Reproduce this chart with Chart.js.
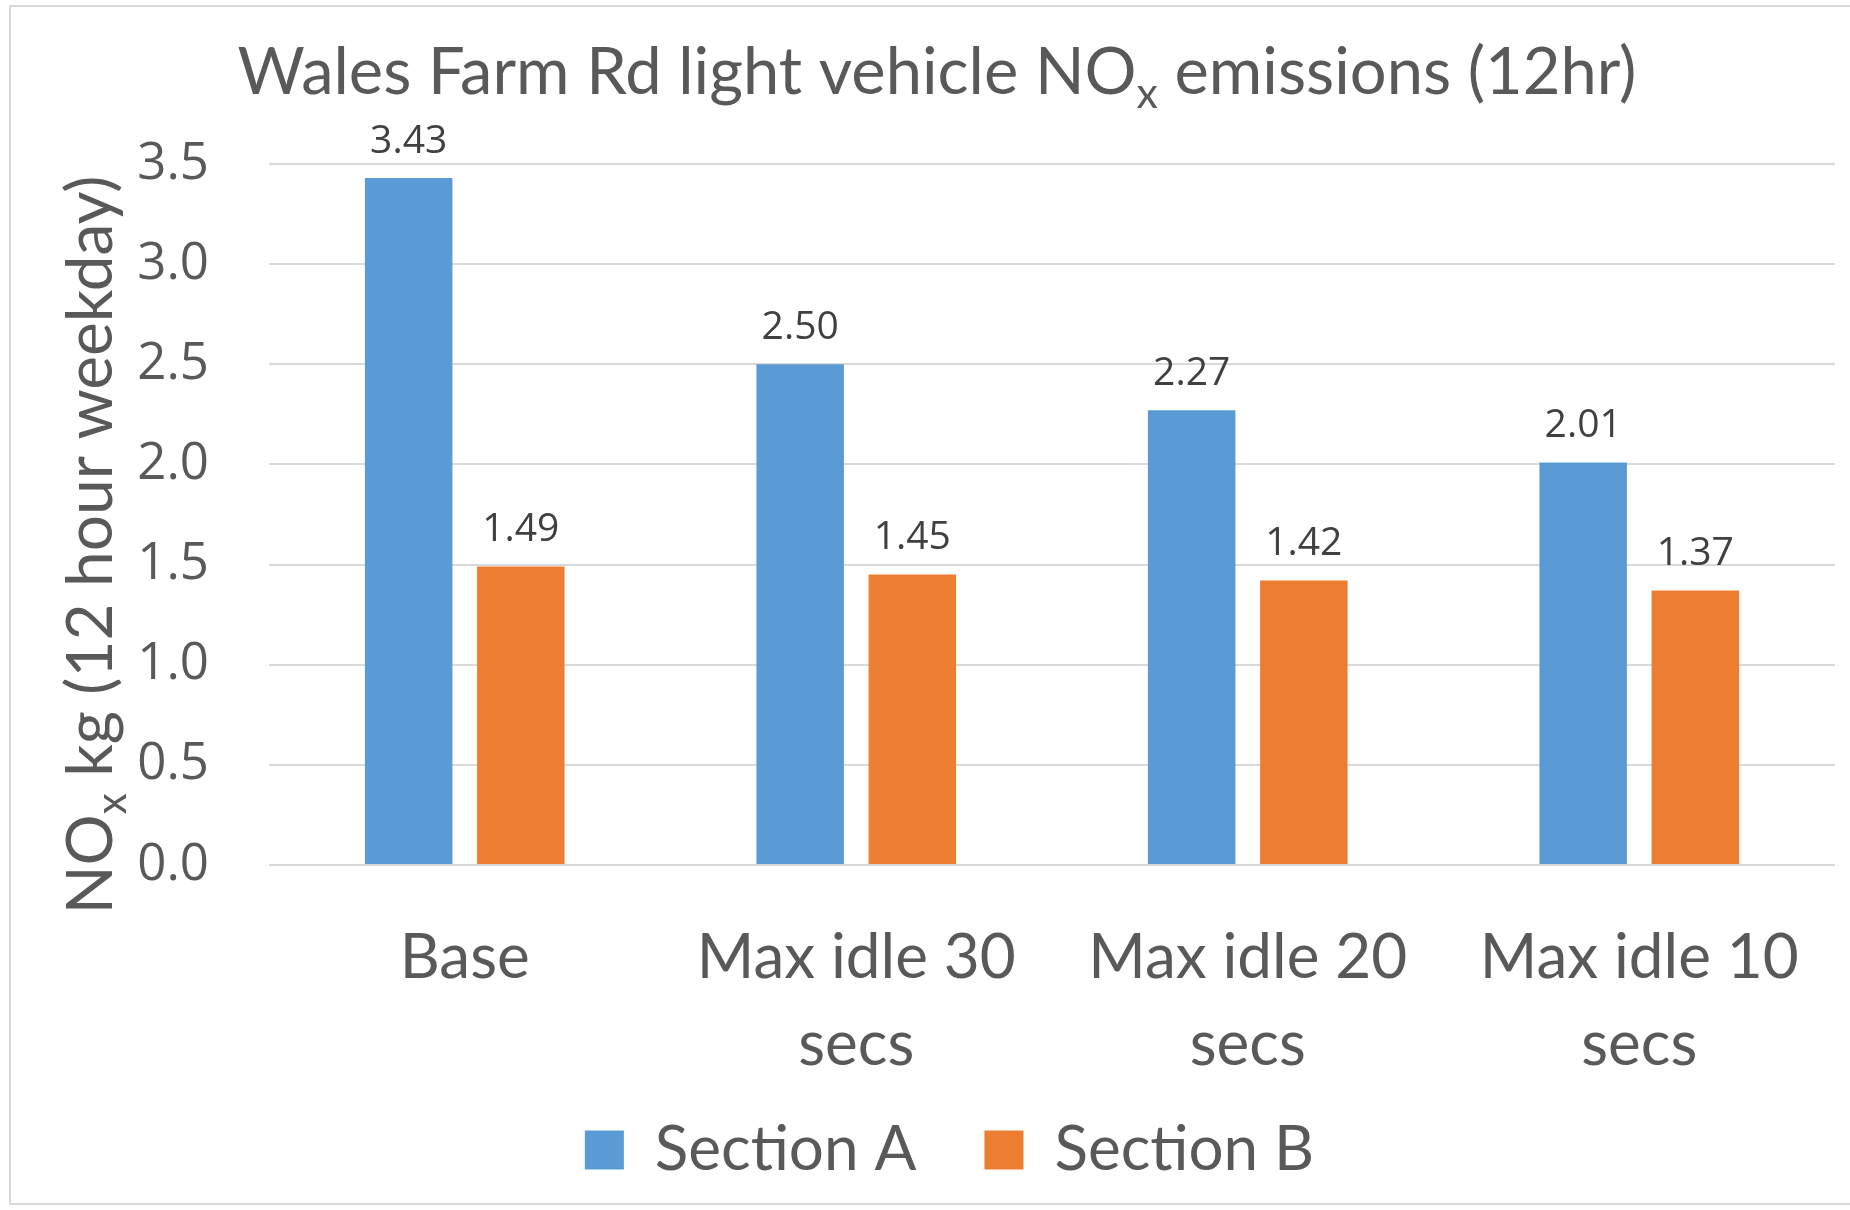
<!DOCTYPE html>
<html>
<head>
<meta charset="utf-8">
<script src="https://cdn.jsdelivr.net/npm/chart.js@4.4.0/dist/chart.umd.min.js"></script>
<style>
  html, body { margin: 0; padding: 0; background: #fff; }
  #wrap { position: relative; width: 1850px; height: 1210px; }
  #frame { position: absolute; left: 9px; top: 5px; width: 1860px; height: 1200px; border: 2px solid #d9d9d9; box-sizing: border-box; pointer-events: none; }
</style>
</head>
<body>
<div id="wrap">
  <canvas id="noxChart" width="1850" height="1210"></canvas>
  <div id="frame"></div>
</div>
<script>
const categories = [["Base"], ["Max idle 30", "secs"], ["Max idle 20", "secs"], ["Max idle 10", "secs"]];
const sectionA = [3.43, 2.50, 2.27, 2.01];
const sectionB = [1.49, 1.45, 1.42, 1.37];
const seriesNames = ["Section A", "Section B"];

const textGrey = "#595959";
const calibriLike = "Lato, 'Open Sans', sans-serif";
const segoeLike = "'Open Sans', 'Noto Sans', sans-serif";

// draws text pieces, some of them as subscript
function drawRich(ctx, parts, size) {
  let total = 0;
  parts.forEach(p => {
    ctx.font = (p.sub ? size * 0.66 : size) + "px " + calibriLike;
    p.w = ctx.measureText(p.t).width;
    total += p.w;
  });
  let x = -total / 2;
  parts.forEach(p => {
    ctx.font = (p.sub ? size * 0.66 : size) + "px " + calibriLike;
    ctx.fillText(p.t, x, p.sub ? size * 0.22 : 0);
    x += p.w;
  });
}

const textPlugin = {
  id: "textPlugin",
  afterLayout(chart) {
    // let the two-line category labels run past the axis box
    chart.scales.x.bottom = chart.height;
  },
  afterDraw(chart) {
    const ctx = chart.ctx;
    ctx.save();
    ctx.fillStyle = textGrey;
    ctx.textBaseline = "alphabetic";
    ctx.textAlign = "left";
    // title
    ctx.save();
    ctx.translate(937, 94);
    drawRich(ctx, [{ t: "Wales Farm Rd light vehicle NO" }, { t: "x", sub: true }, { t: " emissions (12hr)" }], 65);
    ctx.restore();
    // y axis title
    ctx.save();
    ctx.translate(112, 545);
    ctx.rotate(-Math.PI / 2);
    drawRich(ctx, [{ t: "NO" }, { t: "x", sub: true }, { t: " kg (12 hour weekday)" }], 64);
    ctx.restore();
    ctx.restore();
  }
};

const valueLabels = {
  id: "valueLabels",
  afterDatasetsDraw(chart) {
    const ctx = chart.ctx;
    ctx.save();
    ctx.font = "39px " + segoeLike;
    ctx.fillStyle = "#404040";
    ctx.textAlign = "center";
    ctx.textBaseline = "bottom";
    chart.data.datasets.forEach((ds, i) => {
      chart.getDatasetMeta(i).data.forEach((bar, j) => {
        ctx.fillText(ds.data[j].toFixed(2), bar.x, bar.y - 17);
      });
    });
    ctx.restore();
  }
};

new Chart(document.getElementById("noxChart").getContext("2d"), {
  type: "bar",
  data: {
    labels: categories,
    datasets: [
      { label: seriesNames[0], data: sectionA, backgroundColor: "#5B9BD5" },
      { label: seriesNames[1], data: sectionB, backgroundColor: "#ED7D31" }
    ]
  },
  options: {
    responsive: false,
    animation: false,
    categoryPercentage: 0.573,
    barPercentage: 0.78,
    layout: { padding: { top: 164, left: 64, right: 15, bottom: 19 } },
    plugins: {
      title: { display: false },
      tooltip: { enabled: false },
      legend: {
        position: "bottom",
        labels: {
          boxWidth: 39,
          boxHeight: 39,
          padding: 68,
          color: textGrey,
          font: { family: calibriLike, size: 62 }
        }
      }
    },
    scales: {
      x: {
        grid: { display: false },
        border: { display: false },
        ticks: {
          color: textGrey,
          padding: 42,
          maxRotation: 0,
          font: { family: calibriLike, size: 62, lineHeight: 1.4 }
        },
        afterFit(scale) { scale.height = 186; }
      },
      y: {
        min: 0,
        max: 3.5,
        grid: { color: "#d9d9d9", lineWidth: 2, drawTicks: false },
        border: { display: false },
        ticks: {
          stepSize: 0.5,
          padding: 60,
          color: textGrey,
          font: { family: segoeLike, size: 51 },
          callback: v => v.toFixed(1)
        },
        afterFit(scale) { scale.width = 205; }
      }
    }
  },
  plugins: [textPlugin, valueLabels]
});
</script>
</body>
</html>
